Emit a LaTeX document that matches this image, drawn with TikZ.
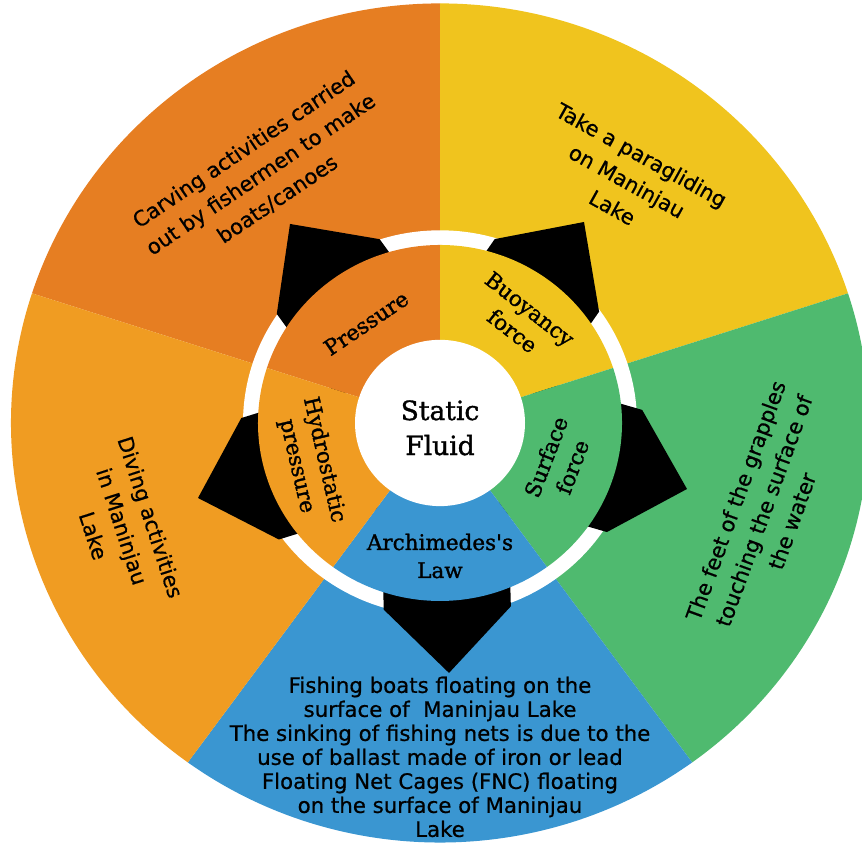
\documentclass[tikz,border=0pt]{standalone}
\usepackage{fontspec}
\setmainfont{DejaVu Sans}
\newfontfamily\exfont[FakeBold=0.6]{DejaVu Sans}
\newfontfamily\labelfont[FakeBold=1.3]{DejaVu Serif}
\usetikzlibrary{calc}

\definecolor{carrot}{HTML}{E67E22}
\definecolor{sun}{HTML}{F0C41E}
\definecolor{leaf}{HTML}{4FBA6F}
\definecolor{sky}{HTML}{3A96D1}
\definecolor{amber}{HTML}{F09C22}

% filled pie slice: colour, start angle, end angle, radius
\newcommand\wedgefill[4]{%
  \fill[#1] (C) -- ([shift={(#2:#4)}]C) arc[start angle=#2, end angle=#3, radius=#4] -- cycle;}
% black pointer: tip position, direction
\newcommand\pointer[2]{%
  \fill[black, shift={#1}, rotate=#2]
    (0,0) -- (-65,65) -- (-170,65) -- (-170,-65) -- (-65,-65) -- cycle;}

\begin{document}
\begin{tikzpicture}[x=1pt,y=0.978pt,
  outertext/.style={font=\exfont\fontsize{21}{30}\selectfont, align=center, text=black, inner sep=0pt},
  bottomtext/.style={font=\exfont\fontsize{21.3}{24}\selectfont, align=center, text=black, inner sep=0pt},
  ringtext/.style={font=\labelfont\fontsize{21.5}{28}\selectfont, align=center, text=black, inner sep=0pt},
  coretext/.style={font=\labelfont\fontsize{26.5}{35}\selectfont, align=center, text=black, inner sep=0pt}]
\useasboundingbox (0,0) rectangle (862,862);
\coordinate (C) at (440,429.5);

% outer ring of examples
\wedgefill{carrot}{90}{162}{429}
\wedgefill{sun}{18}{90}{429}
\wedgefill{leaf}{-54}{18}{429}
\wedgefill{sky}{-126}{-54}{429}
\wedgefill{amber}{162}{234}{429}

% white separating ring
\fill[white] (C) circle[radius=197];

% pointers from the concept ring outwards
\pointer{(290,633)}{126}
\pointer{(584,635)}{55.2}
\pointer{(687,362)}{-16.1}
\pointer{(449,173.9)}{-88.5}
\pointer{(198,352.8)}{197.2}

% concept ring
\wedgefill{carrot}{90}{162}{182}
\wedgefill{sun}{18}{90}{182}
\wedgefill{leaf}{-54}{18}{182}
\wedgefill{sky}{-126}{-54}{182}
\wedgefill{amber}{162}{234}{182}

% core
\fill[white] (C) circle[radius=85];

% labels
\node[coretext] (core) at ($(C)+(0,-5)$) {Static\\Fluid};
\node[ringtext, rotate=34] (pressure) at ($(C)+(125.9:126)$) {Pressure};
\node[ringtext, rotate=-38] (buoyancy) at ($(C)+(52.4:133)$) {Buoyancy\\force};
\node[ringtext, rotate=69] (surface) at ($(C)+(-18.5:125.5)$) {Surface\\force};
\node[ringtext, rotate=-77] (hydro) at ($(C)+(197.5:136)$) {Hydrostatic\\pressure};
\node[ringtext] (archimedes) at ($(C)+(-90:136)$) {Archimedes\textquotesingle s\\Law};

\node[outertext, rotate=34] (carving) at ($(C)+(125.2:311)$)
  {Carving activities carried\\out by fishermen to make\\boats/canoes};
\node[outertext, rotate=-29] (paraglide) at ($(C)+(52.9:310)$)
  {Take a paragliding\\on Maninjau\\Lake};
\node[outertext, rotate=70] (grapples) at ($(C)+(-15.5:336)$)
  {The feet of the grapples\\touching the surface of\\the water};
\node[outertext, rotate=-72] (diving) at ($(C)+(198.4:335)$)
  {Diving activities\\in Maninjau\\Lake};
\node[bottomtext] (boats) at ($(C)+(-90:341.5)$)
  {Fishing boats floating on the\\surface of~ Maninjau Lake\\The sinking of fishing nets is due to the\\use of ballast made of iron or lead\\Floating Net Cages (FNC) floating\\on the surface of Maninjau\\Lake};
\end{tikzpicture}
\end{document}
